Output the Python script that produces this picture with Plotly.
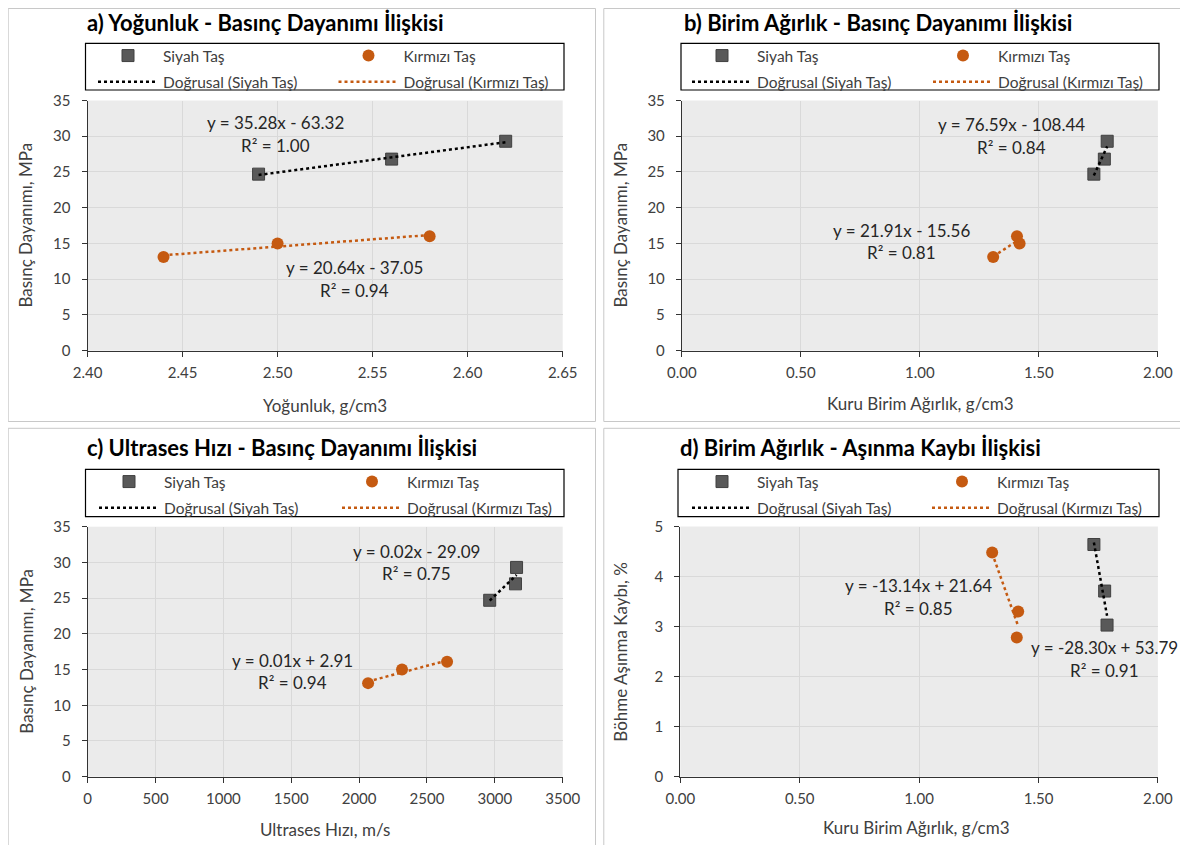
import numpy as np
import plotly.graph_objects as go

# ---------------- DATA ----------------
siyah_yogunluk = [2.49, 2.56, 2.62]
siyah_basinc = [24.7, 26.8, 29.3]
siyah_birim = [1.731, 1.775, 1.787]
siyah_ultrases = [2962, 3152, 3160]
siyah_basinc_c = [24.7, 27.0, 29.3]
siyah_birim_d = [1.732, 1.777, 1.787]
siyah_asinma = [4.64, 3.71, 3.03]

kirmizi_yogunluk = [2.44, 2.50, 2.58]
kirmizi_basinc = [13.1, 15.0, 16.0]
kirmizi_birim = [1.308, 1.419, 1.408]
kirmizi_ultrases = [2066, 2316, 2648]
kirmizi_basinc_c = [13.1, 15.0, 16.1]
kirmizi_birim_d = [1.306, 1.415, 1.409]
kirmizi_asinma = [4.48, 3.30, 2.78]

titles = ["a) Yoğunluk - Basınç Dayanımı İlişkisi",
          "b) Birim Ağırlık - Basınç Dayanımı İlişkisi",
          "c) Ultrases Hızı - Basınç Dayanımı İlişkisi",
          "d) Birim Ağırlık - Aşınma Kaybı İlişkisi"]
x_titles = ["Yoğunluk, g/cm3", "Kuru Birim Ağırlık, g/cm3",
            "Ultrases Hızı, m/s", "Kuru Birim Ağırlık, g/cm3"]
y_titles = ["Basınç Dayanımı, MPa", "Basınç Dayanımı, MPa",
            "Basınç Dayanımı, MPa", "Böhme Aşınma Kaybı, %"]
eq_siyah = [("y = 35.28x - 63.32", "R² = 1.00"), ("y = 76.59x - 108.44", "R² = 0.84"),
            ("y = 0.02x - 29.09", "R² = 0.75"), ("y = -28.30x + 53.79", "R² = 0.91")]
eq_kirmizi = [("y = 20.64x - 37.05", "R² = 0.94"), ("y = 21.91x - 15.56", "R² = 0.81"),
              ("y = 0.01x + 2.91", "R² = 0.94"), ("y = -13.14x + 21.64", "R² = 0.85")]
legend_names = ["Siyah Taş", "Kırmızı Taş", "Doğrusal (Siyah Taş)", "Doğrusal (Kırmızı Taş)"]

panels = [
    (siyah_yogunluk, siyah_basinc, kirmizi_yogunluk, kirmizi_basinc),
    (siyah_birim, siyah_basinc, kirmizi_birim, kirmizi_basinc),
    (siyah_ultrases, siyah_basinc_c, kirmizi_ultrases, kirmizi_basinc_c),
    (siyah_birim_d, siyah_asinma, kirmizi_birim_d, kirmizi_asinma),
]

# ---------------- STYLE / LAYOUT ----------------
# the page puts the figure 8px from the top-left corner of the window
OFF = 8
W, H = 1188 - OFF, 845 - OFF
FONT = "Lato"
BLACK_C = "#595959"
ORANGE = "#C55A11"
TXT = "#404040"

def px(x):
    return (x - OFF) / W

def py(y):
    return 1 - (y - OFF) / H

# plot areas in window pixels: (left, right, top, bottom)
areas = [(87.5, 562.7, 100.5, 350.7), (681.8, 1157.9, 100.5, 350.7),
         (87.7, 562.7, 526.7, 776.7), (680.3, 1157.9, 526.5, 776.7)]
xranges = [[2.40, 2.65], [0, 2], [0, 3500], [0, 2]]
xdticks = [0.05, 0.5, 500, 0.5]
xfmts = [".2f", ".2f", "d", ".2f"]
yranges = [[0, 35], [0, 35], [0, 35], [0, 5]]
ydticks = [5, 5, 5, 1]
legend_boxes = [(85.5, 564, 43.3, 90), (681, 1159, 43.3, 90),
                (85.5, 564, 469.3, 516.7), (678, 1159, 469.3, 516.7)]
# legend columns: left x of line symbol for column 1 / column 2, y of first row
legend_cols = [(98, 338.5, 55), (692, 933, 55), (99, 342, 481), (692, 932, 481)]
panel_boxes = [(8.2, 595.5, 8.5, 421.5), (603.8, 1184.5, 8.5, 421.5),
               (8.2, 595.5, 428.3, 846), (603.8, 1184.5, 428.3, 846)]
title_pos = [(85, 22), (682, 22), (85, 447), (678, 447)]
ytitle_pos = [(26, 225.6), (621, 225.6), (27, 651.7), (621, 651.7)]
xtitle_pos = [(325, 405), (920, 403), (325, 829), (916, 827)]
eq_s_pos = [(275, 122.7, 145.3), (1011, 125, 147.7), (416, 551, 573.3), (1104, 647.7, 670)]
eq_k_pos = [(354, 267.7, 290.7), (901.5, 230, 252.7), (292.3, 660, 682.7), (918.5, 585.7, 608.7)]

fig = go.Figure()
annotations = []
shapes = []
layout = {}

for i, (xs, ys, xk, yk) in enumerate(panels):
    n = "" if i == 0 else str(i + 1)
    xa, ya = "x" + n, "y" + n
    leg_a = "legend" if i == 0 else "legend" + str(2 * i + 1)
    leg_b = "legend" + str(2 * i + 2)
    # markers
    fig.add_trace(go.Scatter(x=xs, y=ys, mode="markers", name=legend_names[0],
                             marker=dict(symbol="square", size=12, color=BLACK_C,
                                         line=dict(color="#404040", width=1)),
                             xaxis=xa, yaxis=ya, legend=leg_a, legendgroup="s" + n))
    fig.add_trace(go.Scatter(x=xk, y=yk, mode="markers", name=legend_names[1],
                             marker=dict(symbol="circle", size=12, color=ORANGE),
                             xaxis=xa, yaxis=ya, legend=leg_b, legendgroup="k" + n))
    # linear trendlines (least squares on the data)
    for (xx, yy, col, nm, lg, grp) in [(xs, ys, "#000000", legend_names[2], leg_a, "ts" + n),
                                       (xk, yk, ORANGE, legend_names[3], leg_b, "tk" + n)]:
        m, b = np.polyfit(xx, yy, 1)
        tx = np.array([min(xx), max(xx)])
        fig.add_trace(go.Scatter(x=tx, y=m * tx + b, mode="lines", name=nm,
                                 line=dict(color=col, width=2.5, dash="dot"),
                                 xaxis=xa, yaxis=ya, legend=lg, legendgroup=grp))
    l, r, t, bt = areas[i]
    layout["xaxis" + n] = dict(domain=[px(l), px(r)], anchor=ya, range=xranges[i],
                               dtick=xdticks[i], tick0=xranges[i][0], tickformat=xfmts[i],
                               showgrid=True, gridcolor="#D9D9D9", gridwidth=1,
                               showline=True, linecolor="#333333", linewidth=1,
                               ticks="outside", ticklen=5, tickcolor="#333333",
                               zeroline=False, ticklabelstandoff=3,
                               tickfont=dict(family=FONT, size=15, color=TXT))
    layout["yaxis" + n] = dict(domain=[py(bt), py(t)], anchor=xa, range=yranges[i],
                               dtick=ydticks[i], showgrid=True, gridcolor="#D9D9D9",
                               gridwidth=1, showline=True, linecolor="#333333", linewidth=1,
                               ticks="outside", ticklen=5, tickcolor="#333333",
                               zeroline=False, ticklabelstandoff=8,
                               tickfont=dict(family=FONT, size=15, color=TXT))
    lc = legend_cols[i]
    for lg, lx in [(leg_a, lc[0]), (leg_b, lc[1])]:
        layout[lg] = dict(orientation="v", x=px(lx - 5), y=py(lc[2] - 16),
                          xanchor="left", yanchor="top", bgcolor="rgba(0,0,0,0)",
                          itemwidth=60, tracegroupgap=3, borderwidth=0,
                          font=dict(family=FONT, size=15.5, color=TXT))
    lb = legend_boxes[i]
    shapes.append(dict(type="rect", xref="paper", yref="paper",
                       x0=px(lb[0]), x1=px(lb[1]), y0=py(lb[3]), y1=py(lb[2]),
                       line=dict(color="#000000", width=1.2), fillcolor="rgba(0,0,0,0)"))
    pb = panel_boxes[i]
    shapes.append(dict(type="rect", xref="paper", yref="paper",
                       x0=px(pb[0]), x1=px(pb[1]), y0=py(pb[3]), y1=py(pb[2]),
                       line=dict(color="#C8C8C8", width=1), fillcolor="rgba(0,0,0,0)"))
    tp = title_pos[i]
    annotations.append(dict(text="<b>" + titles[i] + "</b>", xref="paper", yref="paper",
                            x=px(tp[0]), y=py(tp[1]), xanchor="left", yanchor="middle",
                            showarrow=False, font=dict(family=FONT, size=22, color="#000000")))
    yp = ytitle_pos[i]
    annotations.append(dict(text=y_titles[i], xref="paper", yref="paper", textangle=-90,
                            x=px(yp[0]), y=py(yp[1]), xanchor="center", yanchor="middle",
                            showarrow=False, font=dict(family=FONT, size=17, color=TXT)))
    xp = xtitle_pos[i]
    annotations.append(dict(text=x_titles[i], xref="paper", yref="paper",
                            x=px(xp[0]), y=py(xp[1]), xanchor="center", yanchor="middle",
                            showarrow=False, font=dict(family=FONT, size=17, color=TXT)))
    for (eqs, pos) in [(eq_siyah[i], eq_s_pos[i]), (eq_kirmizi[i], eq_k_pos[i])]:
        for j, txt in enumerate(eqs):
            annotations.append(dict(text=txt, xref="paper", yref="paper",
                                    x=px(pos[0]), y=py(pos[1 + j]), xanchor="center",
                                    yanchor="middle", showarrow=False,
                                    font=dict(family=FONT, size=17, color="#262626")))

fig.update_layout(width=W, height=H,
                  margin=dict(l=0, r=0, t=0, b=0, autoexpand=False),
                  paper_bgcolor="white", plot_bgcolor="#EBEBEB",
                  annotations=annotations, shapes=shapes, **layout)

fig.write_html("out.html")
